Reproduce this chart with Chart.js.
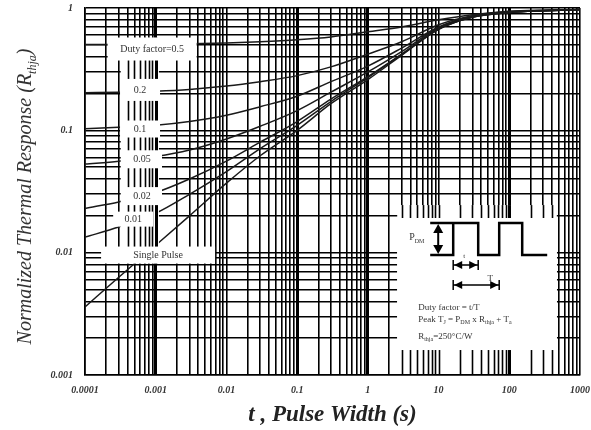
<!DOCTYPE html>
<html>
<head>
<meta charset="utf-8">
<script src="https://cdn.jsdelivr.net/npm/chart.js@4.4.1/dist/chart.umd.min.js"></script>
<style>
  html, body { margin: 0; padding: 0; background: #fff; }
  #wrap { width: 591px; height: 430px; }
</style>
</head>
<body>
<div id="wrap"><canvas id="thermalChart" width="591" height="430"></canvas></div>
<script>
/* ---------------- data ---------------- */
const pulseWidth  = [0.0001, 0.0003, 0.001, 0.003, 0.01, 0.03, 0.1, 0.3, 1, 3, 10, 30, 100, 300, 1000];

const duty05      = [0.502, 0.503, 0.506, 0.51, 0.518, 0.53, 0.55, 0.58, 0.64, 0.70, 0.80, 0.88, 0.94, 0.96, 0.97];
const duty02      = [0.203, 0.205, 0.209, 0.216, 0.23, 0.25, 0.28, 0.33, 0.42, 0.53, 0.73, 0.865, 0.935, 0.955, 0.97];
const duty01      = [0.103, 0.106, 0.110, 0.118, 0.133, 0.156, 0.19, 0.25, 0.335, 0.47, 0.70, 0.855, 0.93, 0.955, 0.97];
const duty005     = [0.053, 0.056, 0.061, 0.069, 0.085, 0.108, 0.145, 0.205, 0.30, 0.44, 0.69, 0.85, 0.925, 0.95, 0.97];
const duty002     = [0.023, 0.026, 0.031, 0.040, 0.056, 0.08, 0.118, 0.18, 0.275, 0.42, 0.675, 0.845, 0.92, 0.95, 0.97];
const duty001     = [0.0134, 0.0162, 0.021, 0.030, 0.046, 0.071, 0.11, 0.172, 0.27, 0.415, 0.67, 0.84, 0.92, 0.95, 0.97];
const singlePulse = [0.0036, 0.0063, 0.0115, 0.020, 0.037, 0.062, 0.10, 0.165, 0.26, 0.41, 0.67, 0.84, 0.92, 0.95, 0.97];

const curveNames  = ['Duty factor=0.5', '0.2', '0.1', '0.05', '0.02', '0.01', 'Single Pulse'];
const curveSeries = [duty05, duty02, duty01, duty005, duty002, duty001, singlePulse];

const xDecades  = [0.0001, 0.001, 0.01, 0.1, 1, 10, 100, 1000];
const xTickText = ['0.0001', '0.001', '0.01', '0.1', '1', '10', '100', '1000'];
const yDecades  = [0.001, 0.01, 0.1, 1];
const yTickText = ['0.001', '0.01', '0.1', '1'];
const heavyX    = [0.001, 0.1, 1, 100];   // doubled lines on the printed sheet

const SERIF = '"Liberation Serif", "Times New Roman", serif';

/* ---------------- log grid: 1..9 per decade ---------------- */
function buildGrid(decades, texts) {
    const grid = [];
    decades.forEach((d, i) => {
        if (i === decades.length - 1) {
            grid.push({ value: d, label: texts[i] });
            return;
        }
        for (let k = 1; k <= 9; k++) {
            grid.push({ value: Number((d * k).toPrecision(6)), label: k === 1 ? texts[i] : '' });
        }
    });
    return grid;
}
const xGrid = buildGrid(xDecades, xTickText);
const yGrid = buildGrid(yDecades, yTickText);

const isHeavy = v => heavyX.some(h => Math.abs(h - v) / h < 1e-6);

/* ---------------- text with subscripts ---------------- */
function drawRich(ctx, parts, x, y, size, style, align) {
    const fontFor = sub => `${style} ${sub ? Math.round(size * 0.62) : size}px ${SERIF}`;
    let total = 0;
    parts.forEach(([s, sub]) => { ctx.font = fontFor(sub); total += ctx.measureText(s).width; });
    let cx = align === 'center' ? x - total / 2 : x;
    ctx.textAlign = 'left';
    ctx.textBaseline = 'alphabetic';
    parts.forEach(([s, sub]) => {
        ctx.font = fontFor(sub);
        ctx.fillText(s, cx, y + (sub ? size * 0.25 : 0));
        cx += ctx.measureText(s).width;
    });
}

function arrowHead(ctx, x, y, dx, dy, len, half) {
    // tip at (x,y), pointing along (dx,dy)
    const bx = x - dx * len, by = y - dy * len;
    ctx.beginPath();
    ctx.moveTo(x, y);
    ctx.lineTo(bx - dy * half, by + dx * half);
    ctx.lineTo(bx + dy * half, by - dx * half);
    ctx.closePath();
    ctx.fill();
}

function spanArrow(ctx, x0, x1, y) {
    ctx.lineWidth = 1.5;
    ctx.beginPath();
    ctx.moveTo(x0, y); ctx.lineTo(x1, y);
    ctx.moveTo(x0, y - 5); ctx.lineTo(x0, y + 5);
    ctx.moveTo(x1, y - 5); ctx.lineTo(x1, y + 5);
    ctx.stroke();
    arrowHead(ctx, x0 + 1, y, -1, 0, 8, 4);
    arrowHead(ctx, x1 - 1, y, 1, 0, 8, 4);
}

/* ---------------- overlay: label patches, inset, y title ---------------- */
const overlayPlugin = {
    id: 'overlay',
    afterDatasetsDraw(chart) {
        const { ctx, chartArea: area, scales: { x, y } } = chart;
        const px = t => x.getPixelForValue(t);
        const py = r => y.getPixelForValue(r);

        ctx.save();

        // white patches where only the vertical rulings show through
        const patches = [
            { t0: 0.00032, t1: 0.00111, r0: 0.57, r1: 0.0082 },
            { t0: 2.6, t1: 470, r0: 0.0245, r1: null }
        ];
        patches.forEach(p => {
            const x0 = px(p.t0), x1 = px(p.t1);
            const y0 = py(p.r0), y1 = p.r1 ? py(p.r1) : area.bottom - 1;
            ctx.fillStyle = '#fff';
            ctx.fillRect(x0, y0, x1 - x0, y1 - y0);
            ctx.strokeStyle = '#000';
            x.ticks.forEach((tk, i) => {
                const gx = Math.round(x.getPixelForTick(i)) + 0.5;
                if (gx <= x0 || gx >= x1) return;
                ctx.lineWidth = isHeavy(tk.value) ? 3 : 1.6;
                ctx.beginPath();
                ctx.moveTo(gx, y0);
                ctx.lineTo(gx, y1);
                ctx.stroke();
            });
        });

        // curve labels on white boxes
        const anchors = [
            { t: 0.00089, r: 0.462,  w: 89,  h: 23 },
            { t: 0.0006,  r: 0.214,  w: 40,  h: 22 },
            { t: 0.0006,  r: 0.1025, w: 40,  h: 17 },
            { t: 0.00064, r: 0.058,  w: 40,  h: 18 },
            { t: 0.00064, r: 0.029,  w: 40,  h: 18 },
            { t: 0.00048, r: 0.0188, w: 40,  h: 15 },
            { t: 0.00108, r: 0.00956, w: 114, h: 17 }
        ];
        anchors.forEach((a, i) => {
            const cx = px(a.t), cy = py(a.r);
            ctx.fillStyle = '#fff';
            ctx.fillRect(cx - a.w / 2, cy - a.h / 2, a.w, a.h);
            ctx.fillStyle = '#333';
            ctx.font = `10px ${SERIF}`;
            ctx.textAlign = 'center';
            ctx.textBaseline = 'middle';
            ctx.fillText(curveNames[i], cx, cy);
        });

        // inset: pulse train and formulas
        const X0 = px(2.6), Y0 = py(0.0192), X1 = px(470), Y1 = py(0.0016);
        ctx.fillStyle = '#fff';
        ctx.fillRect(X0, Y0, X1 - X0, Y1 - Y0);

        ctx.strokeStyle = '#000';
        ctx.fillStyle = '#000';
        ctx.lineWidth = 2.5;
        ctx.beginPath();
        ctx.moveTo(X0 + 33, Y0 + 5);
        ctx.lineTo(X0 + 81, Y0 + 5);
        ctx.lineTo(X0 + 81, Y0 + 37);
        ctx.lineTo(X0 + 102, Y0 + 37);
        ctx.lineTo(X0 + 102, Y0 + 5);
        ctx.lineTo(X0 + 125, Y0 + 5);
        ctx.lineTo(X0 + 125, Y0 + 37);
        ctx.lineTo(X0 + 150, Y0 + 37);
        ctx.moveTo(X0 + 56, Y0 + 5);
        ctx.lineTo(X0 + 56, Y0 + 37);
        ctx.lineTo(X0 + 33, Y0 + 37);
        ctx.stroke();

        // P_DM double arrow
        ctx.lineWidth = 2;
        ctx.beginPath();
        ctx.moveTo(X0 + 41, Y0 + 10);
        ctx.lineTo(X0 + 41, Y0 + 32);
        ctx.stroke();
        arrowHead(ctx, X0 + 41, Y0 + 6, 0, -1, 9, 5);
        arrowHead(ctx, X0 + 41, Y0 + 36, 0, 1, 9, 5);

        spanArrow(ctx, X0 + 56, X0 + 81, Y0 + 47);
        spanArrow(ctx, X0 + 56, X0 + 102, Y0 + 67);

        ctx.fillStyle = '#333';
        drawRich(ctx, [['P', false], ['DM', true]], X0 + 12, Y0 + 22, 10, 'normal', 'left');
        ctx.font = `7px ${SERIF}`;
        ctx.textAlign = 'center';
        ctx.textBaseline = 'middle';
        ctx.fillText('t', X0 + 67, Y0 + 38);
        ctx.font = `9px ${SERIF}`;
        ctx.fillText('T', X0 + 93, Y0 + 61);

        drawRich(ctx, [['Duty factor = t/T', false]], X0 + 21, Y0 + 92, 9, 'normal', 'left');
        drawRich(ctx, [['Peak T', false], ['J', true], [' = P', false], ['DM', true], [' x R', false],
                       ['thja', true], [' + T', false], ['a', true]], X0 + 21, Y0 + 104, 9, 'normal', 'left');
        drawRich(ctx, [['R', false], ['thja', true], ['=250°C/W', false]], X0 + 21, Y0 + 121, 9, 'normal', 'left');

        // y axis title with subscript
        ctx.translate(23, (area.top + area.bottom) / 2 + 5);
        ctx.rotate(-Math.PI / 2);
        ctx.fillStyle = '#333';
        drawRich(ctx, [['Normalized Thermal Response (R', false], ['thja', true], [')', false]], 0, 8, 20, 'italic', 'center');

        ctx.restore();
    }
};

/* ---------------- chart ---------------- */
const ctx = document.getElementById('thermalChart').getContext('2d');

new Chart(ctx, {
    type: 'line',
    data: {
        datasets: curveSeries.map((series, i) => ({
            label: curveNames[i],
            data: pulseWidth.map((t, j) => ({ x: t, y: series[j] })),
            borderColor: '#1a1a1a',
            borderWidth: 1.5,
            pointRadius: 0,
            cubicInterpolationMode: 'monotone',
            fill: false
        }))
    },
    options: {
        responsive: false,
        animation: false,
        devicePixelRatio: 1,
        layout: { padding: { top: 8, right: 11, left: 0, bottom: 0 } },
        plugins: {
            legend: { display: false },
            tooltip: { enabled: false }
        },
        scales: {
            x: {
                type: 'logarithmic',
                min: 0.0001,
                max: 1000,
                afterBuildTicks: scale => { scale.ticks = xGrid.map(g => ({ value: g.value })); },
                afterFit: scale => {
                    scale.height = 55;
                    scale.paddingLeft = 0;
                    scale.paddingRight = 0;
                },
                grid: {
                    color: '#000',
                    lineWidth: c => (c.tick && isHeavy(c.tick.value)) ? 3 : 1.6,
                    drawTicks: false
                },
                border: { display: true, color: '#000', width: 1.6 },
                ticks: {
                    autoSkip: false,
                    maxRotation: 0,
                    minRotation: 0,
                    padding: 9,
                    color: '#333',
                    font: { family: SERIF, size: 10, style: 'italic', weight: 'bold' },
                    callback: (v, i) => xGrid[i] ? xGrid[i].label : ''
                },
                title: {
                    display: true,
                    text: 't , Pulse Width (s)',
                    color: '#222',
                    padding: { top: 0, bottom: 1 },
                    font: { family: SERIF, size: 23, style: 'italic', weight: 'bold' }
                }
            },
            y: {
                type: 'logarithmic',
                min: 0.001,
                max: 1,
                afterBuildTicks: scale => { scale.ticks = yGrid.map(g => ({ value: g.value })); },
                afterFit: scale => {
                    scale.width = 85;
                    scale.paddingTop = 0;
                    scale.paddingBottom = 0;
                },
                grid: { color: '#000', lineWidth: 1.6, drawTicks: false },
                border: { display: true, color: '#000', width: 1.6 },
                ticks: {
                    autoSkip: false,
                    padding: 12,
                    color: '#333',
                    font: { family: SERIF, size: 10, style: 'italic', weight: 'bold' },
                    callback: (v, i) => yGrid[i] ? yGrid[i].label : ''
                }
            }
        }
    },
    plugins: [overlayPlugin]
});
</script>
</body>
</html>
